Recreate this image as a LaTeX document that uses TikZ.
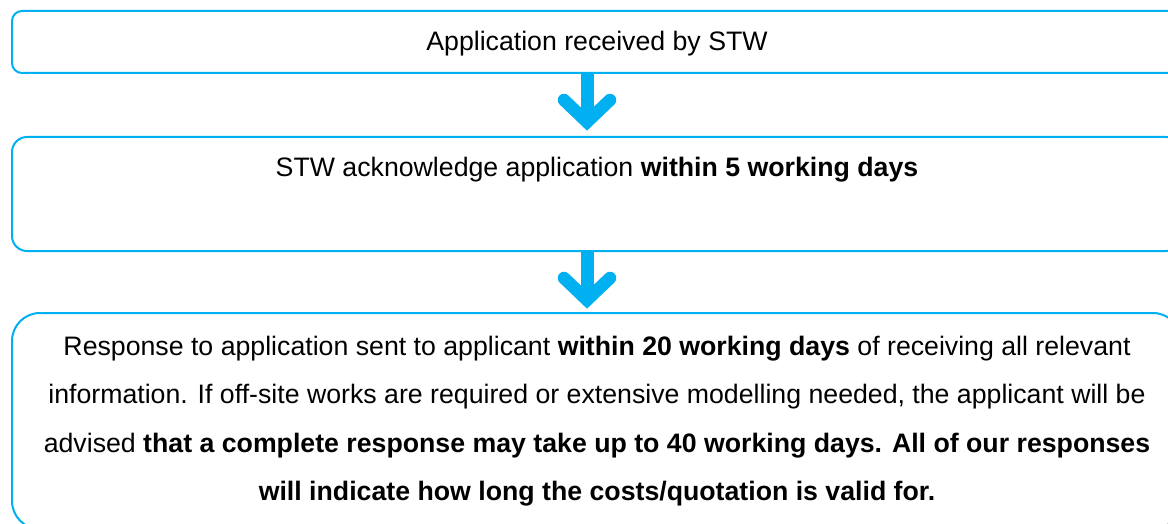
\documentclass[tikz,border=0pt]{standalone}
\usepackage{fontspec}
\setmainfont{Liberation Sans}
\definecolor{stwblue}{HTML}{00B0F0}
\begin{document}
\begin{tikzpicture}[x=1pt,y=-1pt,
  box/.style={draw=stwblue, line width=2pt, rectangle, inner sep=0pt, outer sep=0pt, anchor=north west, minimum width=1169pt},
  txt/.style={font=\fontsize{26.7pt}{48.3pt}\selectfont, align=center, inner sep=0pt, text=black},
  shaft/.style={draw=stwblue, line width=13pt},
  chev/.style={draw=stwblue, line width=12.5pt, line cap=round, line join=miter}]
\useasboundingbox (0,0) rectangle (1168,524);
\clip (0,0) rectangle (1168,524);
\fill[white] (0,0) rectangle (1168,524);
% boxes
\node[box, rounded corners=10pt, minimum height=62pt] (b1) at (12,11) {};
\node[box, rounded corners=15pt, minimum height=114pt] (b2) at (12,137) {};
\node[box, rounded corners=28pt, minimum height=216pt] (b3) at (12,313) {};
% texts
\node[txt, anchor=base] (t1) at (597,51) {Application received by STW};
\node[txt, anchor=base] (t2) at (597,177) {STW acknowledge application \textbf{within 5 working days}};
\node[txt, anchor=north] (t3) at (597,336) {Response to application sent to applicant \textbf{within 20 working days} of receiving all relevant\\
information. If off-site works are required or extensive modelling needed, the applicant will be\\
advised \textbf{that a complete response may take up to 40 working days. All of our responses}\\
\textbf{will indicate how long the costs/quotation is valid for.}};
% arrow axis
\coordinate (ax) at (587,0);
% arrow 1
\coordinate (a1tip) at (587,122);
\draw[shaft] (b1.south -| ax) -- ([yshift=4pt]a1tip);
\draw[chev] ([xshift=-23pt,yshift=22pt]a1tip) -- (a1tip) -- ([xshift=23pt,yshift=22pt]a1tip);
% arrow 2
\coordinate (a2tip) at (587,300);
\draw[shaft] (b2.south -| ax) -- ([yshift=4pt]a2tip);
\draw[chev] ([xshift=-23pt,yshift=22pt]a2tip) -- (a2tip) -- ([xshift=23pt,yshift=22pt]a2tip);
\end{tikzpicture}
\end{document}
